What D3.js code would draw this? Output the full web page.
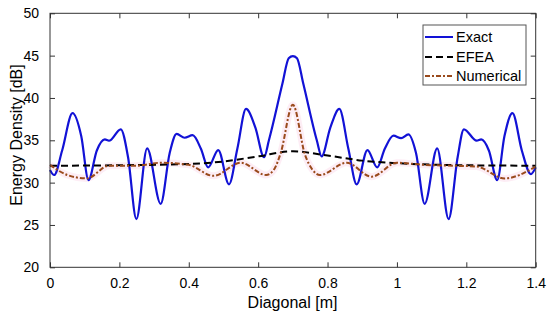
<!DOCTYPE html>
<html>
<head>
<meta charset="utf-8">
<script src="https://cdn.jsdelivr.net/npm/d3@7"></script>
<style>
  body { margin: 0; background: #fff; }
  text { font-family: "Liberation Sans", Arial, sans-serif; }
</style>
</head>
<body>
<svg id="chart" width="550" height="321"></svg>
<script>
// Data
var exactX = [0, 0.012, 0.035, 0.065, 0.09, 0.111, 0.135, 0.158, 0.17, 0.204, 0.225, 0.249, 0.28, 0.319, 0.345, 0.365, 0.388, 0.411, 0.435, 0.456, 0.485, 0.516, 0.54, 0.565, 0.592, 0.617, 0.631, 0.67, 0.688, 0.70, 0.712, 0.73, 0.769, 0.783, 0.808, 0.834, 0.86, 0.884, 0.915, 0.943, 0.965, 0.99, 1.012, 1.033, 1.055, 1.080, 1.116, 1.149, 1.175, 1.193, 1.23, 1.243, 1.265, 1.289, 1.31, 1.333, 1.36, 1.386, 1.4];
var exactY = [31.5, 30.9, 33.8, 38.2, 35.5, 30.3, 33.8, 35.1, 34.95, 36.3, 33.0, 25.7, 34.05, 27.5, 33.5, 35.75, 35.3, 35.6, 34.0, 31.8, 33.85, 29.8, 34.0, 38.7, 36.5, 33.0, 35.0, 41.7, 44.7, 44.95, 44.7, 41.7, 35.0, 33.1, 36.5, 38.7, 34.0, 29.8, 33.85, 31.8, 34.0, 35.55, 35.25, 35.7, 33.5, 27.5, 34.05, 25.7, 33.0, 36.3, 34.95, 35.1, 33.8, 30.3, 35.5, 38.2, 33.8, 31.0, 31.8];

var efeaX = [0, 0.2, 0.4, 0.5, 0.6, 0.7, 0.8, 0.9, 1.0, 1.2, 1.4];
var efeaY = [32.0, 32.05, 32.2, 32.5, 33.1, 33.7, 33.2, 32.6, 32.3, 32.05, 32.0];

var numX = [0, 0.05, 0.106, 0.17, 0.25, 0.32, 0.4, 0.471, 0.55, 0.623, 0.645, 0.665, 0.70, 0.735, 0.757, 0.778, 0.855, 0.927, 1.0, 1.08, 1.16, 1.23, 1.31, 1.4];
var numY = [32.1, 30.9, 30.5, 32.0, 32.0, 32.35, 32.1, 30.8, 32.35, 30.9, 31.5, 33.5, 39.2, 33.3, 31.5, 30.9, 32.35, 30.7, 32.35, 32.1, 32.0, 31.9, 30.5, 31.9];

var xTicks = [0, 0.2, 0.4, 0.6, 0.8, 1, 1.2, 1.4];
var yTicks = [20, 25, 30, 35, 40, 45, 50];

var legendNames = ["Exact", "EFEA", "Numerical"];

var chart = [];
chart.width = 550;
chart.height = 321;

chart.draw = () => {
	let svg = d3.select("#chart");
	let margin = {top: 13.3, right: 14.3, bottom: 53.7, left: 50},
		iwidth = chart.width - margin.left - margin.right,
		iheight = chart.height - margin.top - margin.bottom;

	let x = d3.scaleLinear().domain([0, 1.4]).range([0, iwidth]),
		y = d3.scaleLinear().domain([20, 50]).range([iheight, 0]);

	let g = svg.append("g")
		.attr("transform", "translate(" + margin.left + "," + margin.top + ")");

	let axisColor = "#333";
	let blue = "#1212d6",
		brown = "#9a4a1c";

	// Inward ticks on all four sides
	const styleAxis = (sel) => {
		sel.select(".domain").remove();
		sel.selectAll(".tick line").attr("stroke", axisColor).attr("stroke-width", 1);
		sel.selectAll(".tick text")
			.attr("fill", "#000")
			.style("font-size", "14px")
			.style("font-family", "'Liberation Sans', Arial, sans-serif");
	};

	g.append("g")
		.attr("transform", "translate(0," + iheight + ")")
		.call(d3.axisBottom(x).tickValues(xTicks).tickSize(-5).tickPadding(11).tickFormat(d3.format("")))
		.call(styleAxis);
	g.append("g")
		.call(d3.axisTop(x).tickValues(xTicks).tickSize(-5).tickFormat(""))
		.call(styleAxis);
	g.append("g")
		.call(d3.axisLeft(y).tickValues(yTicks).tickSize(-5).tickPadding(11))
		.call(styleAxis);
	g.append("g")
		.attr("transform", "translate(" + iwidth + ",0)")
		.call(d3.axisRight(y).tickValues(yTicks).tickSize(-5).tickFormat(""))
		.call(styleAxis);

	let line = (xs, ys) => d3.line()
		.x((d, i) => x(xs[i]))
		.y((d) => y(d))
		.curve(d3.curveMonotoneX)(ys);

	// faint pink haze around the numerical curve
	g.append("path")
		.attr("d", line(numX, numY))
		.attr("fill", "none")
		.attr("stroke", "#fde8f3")
		.attr("stroke-width", 7)
		.attr("opacity", 0.8);

	g.append("path")
		.attr("d", line(exactX, exactY))
		.attr("fill", "none")
		.attr("stroke", blue)
		.attr("stroke-width", 2.2);

	g.append("path")
		.attr("d", line(efeaX, efeaY))
		.attr("fill", "none")
		.attr("stroke", "#000")
		.attr("stroke-width", 2)
		.attr("stroke-dasharray", "7,4");

	g.append("path")
		.attr("d", line(numX, numY))
		.attr("fill", "none")
		.attr("stroke", brown)
		.attr("stroke-width", 2)
		.attr("stroke-dasharray", "5,2,2,2");

	// Frame
	g.append("rect")
		.attr("width", iwidth)
		.attr("height", iheight)
		.attr("fill", "none")
		.attr("stroke", axisColor)
		.attr("stroke-width", 1);

	// Axis titles
	svg.append("text")
		.attr("x", 292.5)
		.attr("y", 308)
		.attr("text-anchor", "middle")
		.style("font-size", "16px")
		.text("Diagonal [m]");

	svg.append("text")
		.attr("transform", "translate(21.5,135) rotate(-90)")
		.attr("text-anchor", "middle")
		.style("font-size", "16px")
		.text("Energy Density [dB]");

	// Legend
	let legend = svg.append("g").attr("transform", "translate(423,25)");
	legend.append("rect")
		.attr("width", 103)
		.attr("height", 60)
		.attr("fill", "#fff")
		.attr("stroke", "#555")
		.attr("stroke-width", 1);

	let legendStyles = [
		{stroke: blue, dash: null},
		{stroke: "#000", dash: "7,4"},
		{stroke: brown, dash: "5,2,2,2"}
	];
	let rows = [12, 32, 51];

	legendNames.forEach((name, i) => {
		legend.append("line")
			.attr("x1", 2).attr("x2", 30)
			.attr("y1", rows[i]).attr("y2", rows[i])
			.attr("stroke", legendStyles[i].stroke)
			.attr("stroke-width", 2)
			.attr("stroke-dasharray", legendStyles[i].dash);
		legend.append("text")
			.attr("x", 33)
			.attr("y", rows[i])
			.attr("dy", "0.36em")
			.style("font-size", "14.5px")
			.text(name);
	});
}

chart.draw();
</script>
</body>
</html>
